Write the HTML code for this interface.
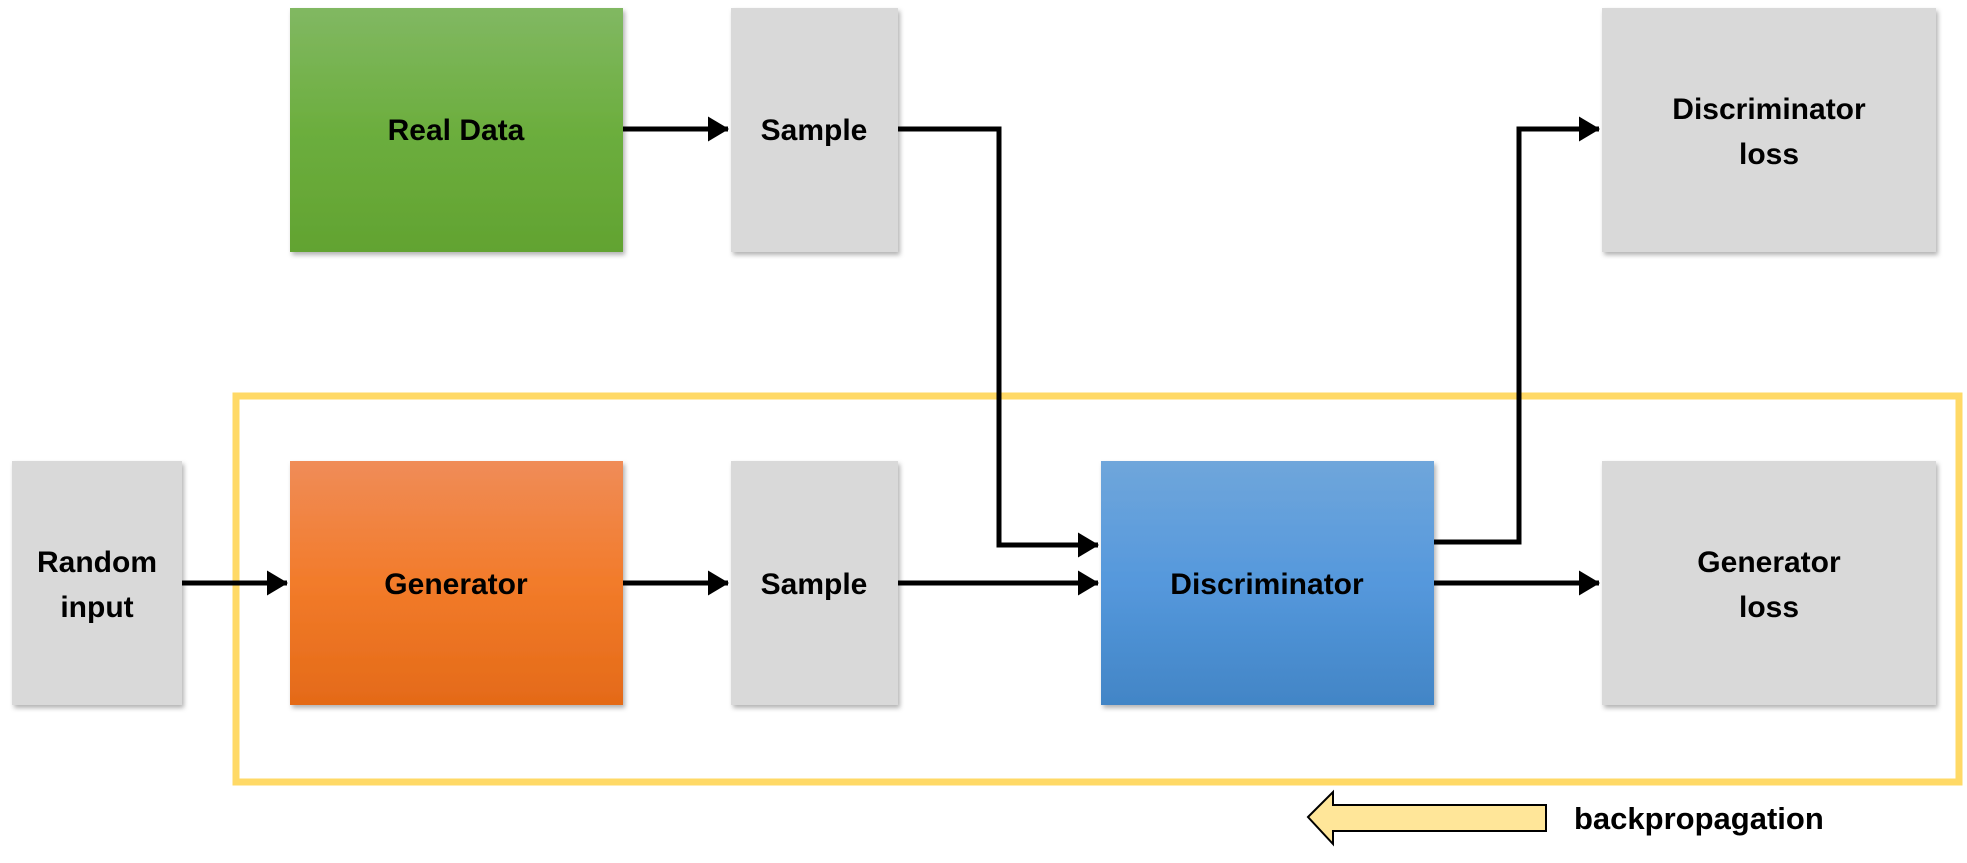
<!DOCTYPE html>
<html><head><meta charset="utf-8"><style>
html,body{margin:0;padding:0;background:#fff;width:1967px;height:863px;overflow:hidden}
text{font-family:"Liberation Sans",sans-serif;font-weight:bold;fill:#000}
</style></head><body>
<svg width="1967" height="863" viewBox="0 0 1967 863" xmlns="http://www.w3.org/2000/svg">
<defs>
<linearGradient id="g" x1="0" y1="0" x2="0" y2="1"><stop offset="0" stop-color="#81b862"/><stop offset="0.5" stop-color="#6cae3e"/><stop offset="1" stop-color="#62a331"/></linearGradient>
<linearGradient id="o" x1="0" y1="0" x2="0" y2="1"><stop offset="0" stop-color="#f08c58"/><stop offset="0.5" stop-color="#f27b2a"/><stop offset="1" stop-color="#e46a18"/></linearGradient>
<linearGradient id="b" x1="0" y1="0" x2="0" y2="1"><stop offset="0" stop-color="#6fa6db"/><stop offset="0.5" stop-color="#5598dc"/><stop offset="1" stop-color="#4285c6"/></linearGradient>
<filter id="s" x="-10%" y="-10%" width="125%" height="125%"><feDropShadow dx="2" dy="3" stdDeviation="2.5" flood-color="#000" flood-opacity="0.3"/></filter>
<marker id="a" markerWidth="5" markerHeight="5" refX="4" refY="2.5" orient="auto" markerUnits="strokeWidth"><path d="M0,0 L4.2,2.5 L0,5 z" fill="#000"/></marker>
</defs>
<rect x="236" y="396" width="1723" height="386" fill="none" stroke="#ffd966" stroke-width="7"/>
<g filter="url(#s)">
<rect x="290" y="8" width="333" height="244" fill="url(#g)"/>
<rect x="731" y="8" width="167" height="244" fill="#d9d9d9"/>
<rect x="1602" y="8" width="334" height="244" fill="#d9d9d9"/>
<rect x="12" y="461" width="170" height="244" fill="#d9d9d9"/>
<rect x="290" y="461" width="333" height="244" fill="url(#o)"/>
<rect x="731" y="461" width="167" height="244" fill="#d9d9d9"/>
<rect x="1101" y="461" width="333" height="244" fill="url(#b)"/>
<rect x="1602" y="461" width="334" height="244" fill="#d9d9d9"/>
</g>
<g stroke="#000" stroke-width="5" fill="none" marker-end="url(#a)">
<line x1="623" y1="129" x2="728" y2="129"/>
<polyline points="898,129 999,129 999,545 1098,545"/>
<line x1="182" y1="583" x2="287" y2="583"/>
<line x1="623" y1="583" x2="728" y2="583"/>
<line x1="898" y1="583" x2="1098" y2="583"/>
<line x1="1434" y1="583" x2="1599" y2="583"/>
<polyline points="1434,542 1519,542 1519,129 1599,129"/>
</g>
<polygon points="1308,817 1333,792 1333,805 1546,805 1546,831 1333,831 1333,844" fill="#ffe699" stroke="#000" stroke-width="2"/>
<g font-size="30" text-anchor="middle">
<text x="456" y="140">Real Data</text>
<text x="814" y="140">Sample</text>
<text x="1769" y="119">Discriminator</text>
<text x="1769" y="164">loss</text>
<text x="97" y="572">Random</text>
<text x="97" y="617">input</text>
<text x="456" y="594">Generator</text>
<text x="814" y="594">Sample</text>
<text x="1267" y="594">Discriminator</text>
<text x="1769" y="572">Generator</text>
<text x="1769" y="617">loss</text>
</g>
<text x="1574" y="829" font-size="31">backpropagation</text>
</svg>
</body></html>
